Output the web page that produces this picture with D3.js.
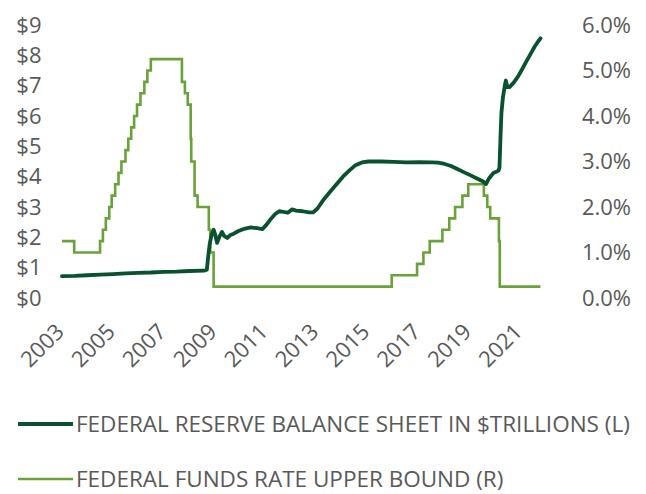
<!DOCTYPE html>
<html>
<head>
<meta charset="utf-8">
<script src="https://cdn.jsdelivr.net/npm/d3@7"></script>
<style>
html,body{margin:0;padding:0;background:#fff;}
svg{display:block;}
text{font-family:"Open Sans","Noto Sans",sans-serif;fill:#595959;}
</style>
</head>
<body>
<svg id="chart" width="646" height="494"></svg>
<script>
// ---- Data ----
const xTickYears = [2003, 2005, 2007, 2009, 2011, 2013, 2015, 2017, 2019, 2021];
const leftTicks = [0, 1, 2, 3, 4, 5, 6, 7, 8, 9];
const rightTicks = [0, 0.01, 0.02, 0.03, 0.04, 0.05, 0.06];

// Federal Reserve balance sheet ($ trillions) – dates and values
const bsDates = [
  "2003-01-01","2003-07-01","2004-01-01","2004-07-01","2005-01-01","2005-07-01","2006-01-01","2006-07-01",
  "2007-01-01","2007-07-01","2008-01-01","2008-08-01","2008-09-10","2008-10-01","2008-10-22","2008-11-19",
  "2008-12-17","2009-01-07","2009-02-04","2009-03-15","2009-04-15","2009-05-15","2009-07-01","2009-08-15",
  "2009-10-01","2009-12-01","2010-03-01","2010-06-01","2010-09-01","2010-11-15","2011-01-15","2011-03-15",
  "2011-05-15","2011-07-15","2011-09-15","2011-11-15","2012-01-15","2012-03-15","2012-06-15","2012-09-15",
  "2012-11-15","2013-01-15","2013-04-15","2013-07-15","2013-10-15","2014-01-15","2014-04-15","2014-07-15",
  "2014-10-15","2015-01-15","2015-07-15","2016-01-15","2016-07-15","2017-01-15","2017-07-15","2017-10-15",
  "2018-01-15","2018-04-15","2018-07-15","2018-10-15","2019-01-15","2019-04-15","2019-07-15","2019-09-01",
  "2019-10-15","2019-12-15","2020-01-15","2020-02-26","2020-03-11","2020-03-25","2020-04-08","2020-04-29",
  "2020-05-27","2020-06-10","2020-07-01","2020-08-01","2020-10-01","2020-12-01","2021-02-01","2021-04-01",
  "2021-06-01","2021-08-01","2021-10-01","2021-10-20"
];
const bsValues = [
  0.72,0.73,0.75,0.77,0.79,0.81,0.83,0.84,
  0.86,0.87,0.89,0.90,0.93,1.40,1.80,2.10,
  2.25,2.10,1.82,2.05,2.18,2.05,1.98,2.08,
  2.12,2.20,2.28,2.33,2.30,2.27,2.42,2.60,
  2.76,2.86,2.84,2.81,2.92,2.88,2.86,2.82,
  2.82,2.95,3.25,3.50,3.75,4.00,4.20,4.38,
  4.47,4.50,4.50,4.49,4.47,4.48,4.47,4.46,
  4.42,4.35,4.25,4.15,4.05,3.95,3.85,3.76,
  3.95,4.12,4.15,4.20,4.30,5.25,6.10,6.60,
  7.00,7.17,6.95,6.95,7.10,7.30,7.55,7.80,
  8.05,8.30,8.50,8.56
];

// Federal funds rate upper bound (change dates and new rate)
const ffDates = [
  "2003-01-01","2003-06-25","2004-06-30","2004-08-10","2004-09-21","2004-11-10","2004-12-14","2005-02-02",
  "2005-03-22","2005-05-03","2005-06-30","2005-08-09","2005-09-20","2005-11-01","2005-12-13","2006-01-31",
  "2006-03-28","2006-05-10","2006-06-29","2007-09-18","2007-10-31","2007-12-11","2008-01-22","2008-01-30",
  "2008-03-18","2008-04-30","2008-10-08","2008-10-29","2008-12-16","2015-12-16","2016-12-14","2017-03-15",
  "2017-06-14","2017-12-13","2018-03-21","2018-06-13","2018-09-26","2018-12-19","2019-07-31","2019-09-18",
  "2019-10-30","2020-03-03","2020-03-15","2021-10-20"
];
const ffValues = [
  0.0125,0.0100,0.0125,0.0150,0.0175,0.0200,0.0225,0.0250,
  0.0275,0.0300,0.0325,0.0350,0.0375,0.0400,0.0425,0.0450,
  0.0475,0.0500,0.0525,0.0475,0.0450,0.0425,0.0350,0.0300,
  0.0225,0.0200,0.0150,0.0100,0.0025,0.0050,0.0075,0.0100,
  0.0125,0.0150,0.0175,0.0200,0.0225,0.0250,0.0225,0.0200,
  0.0175,0.0125,0.0025,0.0025
];

const legendLabels = ["FEDERAL RESERVE BALANCE SHEET IN $TRILLIONS (L)", "FEDERAL FUNDS RATE UPPER BOUND (R)"];
const colors = ["#0a5130", "#6aa23a"];

// ---- Chart ----
const parse = d3.timeParse("%Y-%m-%d");
const bs = bsDates.map((d, i) => ({date: parse(d), v: bsValues[i]}));
const ff = ffDates.map((d, i) => ({date: parse(d), v: ffValues[i]}));

const svg = d3.select("#chart");
const x = d3.scaleTime().domain([new Date(2003,0,1), new Date(2021,0,1)]).range([62, 520.1]);
const yL = d3.scaleLinear().domain([0, 9]).range([298, 25]);
const yR = d3.scaleLinear().domain([0, 0.06]).range([298, 25]);

// Left axis
const gl = svg.append("g").attr("transform", "translate(41.5,0)")
  .call(d3.axisLeft(yL).tickValues(leftTicks).tickSize(0).tickPadding(0).tickFormat(d => "$" + d));
gl.select(".domain").remove();
gl.selectAll("text").style("font-size", "22px").attr("fill", "#595959");

// Right axis
const gr = svg.append("g").attr("transform", "translate(631,0)")
  .call(d3.axisLeft(yR).tickValues(rightTicks).tickSize(0).tickPadding(0).tickFormat(d3.format(".1%")));
gr.select(".domain").remove();
gr.selectAll("text").style("font-size", "22px").attr("fill", "#595959");

// Bottom axis
const gx = svg.append("g").attr("transform", "translate(0,0)")
  .call(d3.axisBottom(x).tickValues(xTickYears.map(yv => new Date(yv,0,1))).tickSize(0).tickFormat(d3.timeFormat("%Y")));
gx.select(".domain").remove();
gx.selectAll("text")
  .style("font-size", "22px").attr("fill", "#595959")
  .style("text-anchor", "end")
  .attr("x", 0).attr("y", 0).attr("dy", 0).attr("dx", 0)
  .attr("transform", "translate(3,333) rotate(-45)");

// Lines
const lineFF = d3.line().x(d => x(d.date)).y(d => yR(d.v)).curve(d3.curveStepAfter);
const lineBS = d3.line().x(d => x(d.date)).y(d => yL(d.v)).curve(d3.curveLinear);

svg.append("path").datum(ff).attr("d", lineFF)
  .attr("fill", "none").attr("stroke", colors[1]).attr("stroke-width", 2.6);
svg.append("path").datum(bs).attr("d", lineBS)
  .attr("fill", "none").attr("stroke", colors[0]).attr("stroke-width", 3.8)
  .attr("stroke-linejoin", "round").attr("stroke-linecap", "round");

// Legend
const lg = svg.append("g");
legendLabels.forEach((lab, i) => {
  const yy = 424 + i * 55;
  lg.append("line").attr("x1", 18).attr("x2", 73).attr("y1", yy).attr("y2", yy)
    .attr("stroke", colors[i]).attr("stroke-width", i === 0 ? 3.8 : 2.6);
  lg.append("text").attr("x", 76).attr("y", yy).attr("dy", "0.35em")
    .style("font-size", "22.5px").text(lab);
});
</script>
</body>
</html>
